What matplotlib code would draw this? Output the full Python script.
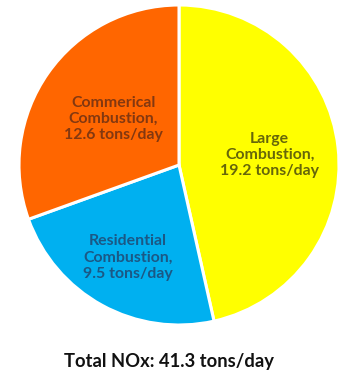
import numpy as np
import matplotlib
matplotlib.use('Agg')
import matplotlib.pyplot as plt

# NOx emissions by combustion source, tons/day
sources = ['Large\nCombustion,', 'Residential\nCombustion,', 'Commerical\nCombustion,']
tons = [19.2, 9.5, 12.6]
colors = ['#FFFF00', '#00B0F0', '#FF6600']
text_colors = ['#66660A', '#1B5885', '#833810']
label_radius = [0.57, 0.66, 0.50]
total_label = 'Total NOx: 41.3 tons/day'

W, H = 339, 374
fig = plt.figure(figsize=(W / 100, H / 100), dpi=100)
fig.patch.set_facecolor('white')

# pie axes placed in pixel terms: centre (179, 165), radius 160
cx, cy, r = 179, 165, 160
ax = fig.add_axes([(cx - r) / W, (H - cy - r) / H, 2 * r / W, 2 * r / H])

wedges, _ = ax.pie(tons, colors=colors, startangle=90, counterclock=False,
                   wedgeprops=dict(edgecolor='white', linewidth=2.2))
ax.set_xlim(-1, 1)
ax.set_ylim(-1, 1)
ax.set_aspect('equal')
ax.axis('off')

for w, name, val, c, rd in zip(wedges, sources, tons, text_colors, label_radius):
    mid = np.deg2rad((w.theta1 + w.theta2) / 2)
    ax.text(rd * np.cos(mid), rd * np.sin(mid), f'{name}\n{val} tons/day',
            ha='center', va='center', color=c, fontsize=11.4,
            fontweight='bold', family='Lato', linespacing=1.2)

fig.text(0.5, (H - 361) / H, total_label, ha='center', va='center',
         fontsize=13.2, fontweight='bold', family='Lato', color='#111111')

fig.savefig('out.png', dpi=100, facecolor='white')
